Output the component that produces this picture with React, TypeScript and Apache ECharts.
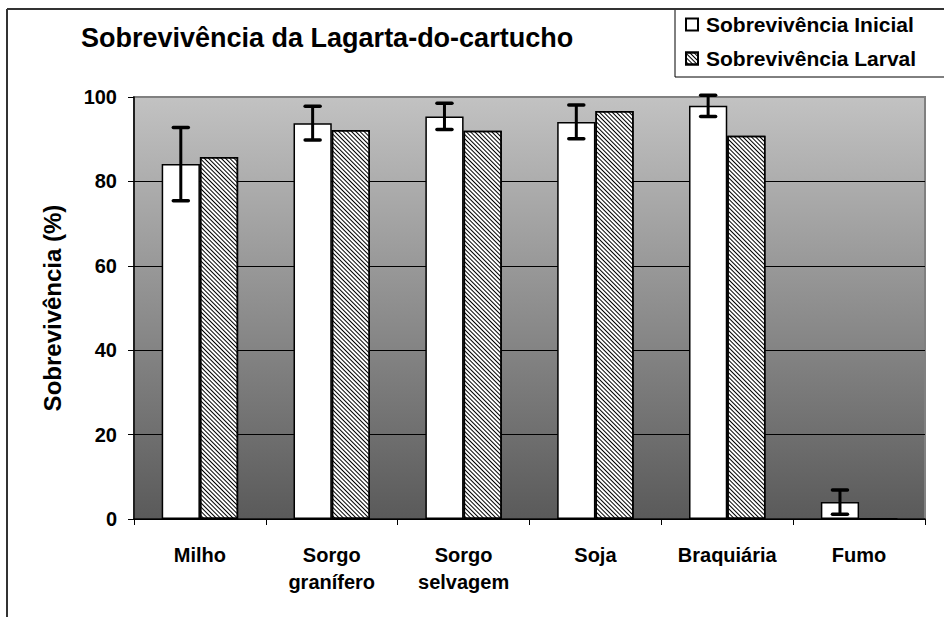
import React, { useEffect, useRef } from "react";
import * as echarts from "echarts";

const categories = ["Milho", "Sorgo\ngranífero", "Sorgo\nselvagem", "Soja", "Braquiária", "Fumo"];
const inicial = [84.1, 93.8, 95.4, 94.1, 97.9, 4.0];
const inicialErr = [8.7, 4.0, 3.1, 4.0, 2.5, 2.9];
const larval = [85.8, 92.2, 92.0, 96.7, 90.8, 0];
const yTicks = [0, 20, 40, 60, 80, 100];

const FONT = "'Liberation Sans', Arial, sans-serif";

export default function App() {
  const ref = useRef<HTMLDivElement>(null);
  useEffect(() => {
    if (!ref.current) return;
    const chart = echarts.init(ref.current, undefined, { renderer: "svg" });
    const errData = inicial.map((v, i) => [i, v, inicialErr[i]]);
    const option: any = {
      animation: false,
      backgroundColor: "#ffffff",
      textStyle: { fontFamily: FONT },
      title: {
        text: "Sobrevivência da Lagarta-do-cartucho",
        left: 81,
        top: 24,
        padding: 0,
        textStyle: { fontFamily: FONT, fontSize: 27, fontWeight: "bold", color: "#000" },
      },
      legend: {
        orient: "vertical",
        left: 675,
        top: 9,
        padding: [5, 80, 8, 10],
        itemGap: 13,
        itemWidth: 12,
        itemHeight: 12,
        icon: "rect",
        backgroundColor: "#ffffff",
        borderColor: "#000",
        borderWidth: 1,
        borderRadius: 0,
        data: ["Sobrevivência Inicial", "Sobrevivência Larval"],
        textStyle: { fontFamily: FONT, fontSize: 21, fontWeight: "bold", color: "#000", padding: [0, 0, 0, 3] },
      },
      grid: {
        left: 134,
        top: 97,
        right: 19,
        bottom: 98,
        show: true,
        borderColor: "#808080",
        borderWidth: 2,
        backgroundColor: new echarts.graphic.LinearGradient(0, 0, 0, 1, [
          { offset: 0, color: "#c2c2c2" },
          { offset: 1, color: "#5a5a5a" },
        ]),
      },
      xAxis: {
        type: "category",
        data: categories,
        axisLine: { show: true, lineStyle: { color: "#000", width: 1.5 } },
        axisTick: { show: true, length: 6, lineStyle: { color: "#000" } },
        axisLabel: {
          fontFamily: FONT,
          fontSize: 20,
          fontWeight: "bold",
          color: "#000",
          margin: 22,
          lineHeight: 27,
          interval: 0,
        },
      },
      yAxis: {
        type: "value",
        min: 0,
        max: 100,
        interval: 20,
        name: "Sobrevivência (%)",
        nameLocation: "middle",
        nameRotate: 90,
        nameGap: 70,
        nameTextStyle: { fontFamily: FONT, fontSize: 24, fontWeight: "bold", color: "#000" },
        axisLine: { show: true, lineStyle: { color: "#000", width: 1.5 } },
        axisTick: { show: true, length: 6, lineStyle: { color: "#000" } },
        axisLabel: {
          fontFamily: FONT,
          fontSize: 20,
          fontWeight: "bold",
          color: "#000",
          margin: 17,
          formatter: (v: number) => (yTicks.includes(v) ? String(v) : ""),
        },
        splitLine: {
          show: true,
          lineStyle: { color: ["#000", "#000", "#000", "#000", "#000", "#808080"], width: 1 },
        },
      },
      graphic: [
        { type: "line", shape: { x1: 7, y1: 9, x2: 944, y2: 9 }, style: { stroke: "#333", lineWidth: 2 }, z: 100 },
        { type: "line", shape: { x1: 7, y1: 9, x2: 7, y2: 617 }, style: { stroke: "#333", lineWidth: 2 }, z: 100 },
      ],
      series: [
        {
          name: "Sobrevivência Inicial",
          type: "bar",
          data: inicial,
          barWidth: "29%",
          barGap: "0%",
          itemStyle: { color: "#ffffff", borderColor: "#000", borderWidth: 1.5 },
        },
        {
          name: "Sobrevivência Larval",
          type: "bar",
          data: larval,
          barWidth: "29%",
          barGap: "0%",
          itemStyle: {
            color: "#ffffff",
            borderColor: "#000",
            borderWidth: 1.5,
            decal: {
              symbol: "rect",
              symbolSize: 1,
              dashArrayX: [[1, 0]],
              dashArrayY: [1, 1.4],
              rotation: Math.PI / 4,
              color: "#000",
            },
          },
        },
        {
          name: "err",
          type: "custom",
          data: errData,
          z: 10,
          renderItem: (params: any, api: any) => {
            const idx = api.value(0);
            const v = api.value(1);
            const e = api.value(2);
            const band = api.size([1, 0])[0];
            const off = -band * 0.145;
            const top = api.coord([idx, v + e]);
            const bot = api.coord([idx, v - e]);
            const x = top[0] + off;
            const cap = 7.5;
            const st = { stroke: "#000", lineWidth: 3.5, lineCap: "round" };
            return {
              type: "group",
              children: [
                { type: "line", shape: { x1: x, y1: top[1], x2: x, y2: bot[1] }, style: { stroke: "#000", lineWidth: 3 } },
                { type: "line", shape: { x1: x - cap, y1: top[1], x2: x + cap, y2: top[1] }, style: st },
                { type: "line", shape: { x1: x - cap, y1: bot[1], x2: x + cap, y2: bot[1] }, style: st },
              ],
            };
          },
        },
      ],
    };
    chart.setOption(option);
    return () => chart.dispose();
  }, []);
  return (
    <div
      ref={ref}
      style={{ position: "fixed", left: 0, top: 0, width: 944, height: 617 }}
    />
  );
}
